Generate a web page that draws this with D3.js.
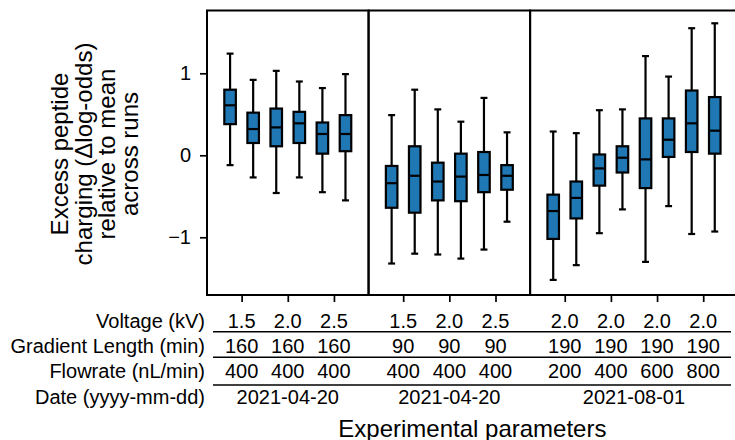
<!DOCTYPE html>
<html>
<head>
<meta charset="utf-8">
<script src="https://cdn.jsdelivr.net/npm/d3@7"></script>
<style>
    body { margin: 0; background: #fff; }
    svg { display: block; font-family: "Liberation Sans", Arial, Helvetica, sans-serif; }
</style>
</head>
<body>
<svg id="chart" width="735" height="440"></svg>
<script>
// conditions in each panel, every condition was run twice
var panelConditions = [3, 3, 4];
var runsPerCondition = 2;

var voltage = ['1.5', '2.0', '2.5', '1.5', '2.0', '2.5', '2.0', '2.0', '2.0', '2.0'];
var gradientLength = ['160', '160', '160', '90', '90', '90', '190', '190', '190', '190'];
var flowrate = ['400', '400', '400', '400', '400', '400', '200', '400', '600', '800'];
var dates = ['2021-04-20', '2021-04-20', '2021-08-01'];
var rowLabels = ['Voltage (kV)', 'Gradient Length (min)', 'Flowrate (nL/min)', 'Date (yyyy-mm-dd)'];
var yTicks = [-1, 0, 1];

// box statistics, one entry per run
var whiskerHigh = [1.24, 0.92, 1.03, 0.90, 0.82, 0.99,
                   0.49, 0.80, 0.56, 0.41, 0.70, 0.28,
                   0.29, 0.27, 0.55, 0.56, 1.21, 0.96, 1.55, 1.61];
var q3 = [0.80, 0.52, 0.57, 0.53, 0.40, 0.49,
          -0.13, 0.11, -0.09, 0.02, 0.04, -0.12,
          -0.48, -0.32, 0.01, 0.11, 0.45, 0.45, 0.79, 0.71];
var median = [0.61, 0.32, 0.34, 0.39, 0.26, 0.26,
              -0.34, -0.25, -0.32, -0.26, -0.24, -0.25,
              -0.68, -0.52, -0.16, -0.03, -0.05, 0.19, 0.39, 0.30];
var q1 = [0.38, 0.15, 0.11, 0.15, 0.02, 0.05,
          -0.64, -0.70, -0.55, -0.56, -0.45, -0.42,
          -1.02, -0.77, -0.37, -0.21, -0.40, -0.02, 0.04, 0.02];
var whiskerLow = [-0.12, -0.27, -0.46, -0.27, -0.45, -0.55,
                  -1.32, -1.20, -1.21, -1.26, -1.15, -0.81,
                  -1.52, -1.34, -0.95, -0.66, -1.30, -0.62, -0.96, -0.93];

var svg = d3.select('#chart');
var plotTop = 10.5, plotBottom = 295, plotLeft = 207, unit = 23.08;

// work out slot positions: one empty slot on each side of a panel
var panels = [], boxes = [], groups = [];
var offset = 0, b = 0, g = 0;
panelConditions.forEach(function(n, p) {
    var width = n * runsPerCondition + 1;
    panels.push({ start: offset, end: offset + width, date: dates[p] });
    for (var c = 0; c < n; c++) {
        groups.push({ pos: offset + 1.5 + c * runsPerCondition, idx: g++ });
        for (var r = 0; r < runsPerCondition; r++) {
            boxes.push({ pos: offset + 1 + c * runsPerCondition + r, idx: b++ });
        }
    }
    offset += width;
});

var x = d3.scaleLinear().domain([0, offset]).range([plotLeft, plotLeft + offset * unit]);
var y = d3.scaleLinear().domain([-1.704, 1.766]).range([plotBottom, plotTop]);

// panel frames
svg.selectAll('rect.panel')
    .data(panels)
    .enter().append('rect')
    .attr('class', 'panel')
    .attr('x', function(d) { return x(d.start); })
    .attr('y', plotTop)
    .attr('width', function(d) { return x(d.end) - x(d.start); })
    .attr('height', plotBottom - plotTop)
    .style('fill', 'none')
    .style('stroke', '#000')
    .style('stroke-width', 2);

// y axis
var yAxis = svg.append('g')
    .attr('transform', 'translate(' + plotLeft + ',0)')
    .call(d3.axisLeft(y).tickValues(yTicks).tickSize(7).tickPadding(9).tickFormat(d3.format('d')));
yAxis.select('.domain').remove();
yAxis.selectAll('line').style('stroke', '#000').style('stroke-width', 1.7);
yAxis.selectAll('text').style('font-size', '20px').style('font-family', 'inherit').style('fill', '#000');

// x ticks at condition centres
var xAxis = svg.append('g')
    .attr('transform', 'translate(0,' + plotBottom + ')')
    .call(d3.axisBottom(x).tickValues(groups.map(function(d) { return d.pos; })).tickSize(7).tickFormat(''));
xAxis.select('.domain').remove();
xAxis.selectAll('line').style('stroke', '#000').style('stroke-width', 1.7);

// boxes
var boxWidth = 0.5 * unit, capWidth = 0.3 * unit;
var box = svg.selectAll('g.box')
    .data(boxes)
    .enter().append('g')
    .attr('class', 'box');

box.append('line')
    .attr('x1', function(d) { return x(d.pos); })
    .attr('x2', function(d) { return x(d.pos); })
    .attr('y1', function(d) { return y(whiskerHigh[d.idx]); })
    .attr('y2', function(d) { return y(whiskerLow[d.idx]); });

box.selectAll('line.cap')
    .data(function(d) { return [{ pos: d.pos, v: whiskerHigh[d.idx] }, { pos: d.pos, v: whiskerLow[d.idx] }]; })
    .enter().append('line')
    .attr('class', 'cap')
    .attr('x1', function(d) { return x(d.pos) - capWidth / 2; })
    .attr('x2', function(d) { return x(d.pos) + capWidth / 2; })
    .attr('y1', function(d) { return y(d.v); })
    .attr('y2', function(d) { return y(d.v); });

box.append('rect')
    .attr('x', function(d) { return x(d.pos) - boxWidth / 2; })
    .attr('y', function(d) { return y(q3[d.idx]); })
    .attr('width', boxWidth)
    .attr('height', function(d) { return y(q1[d.idx]) - y(q3[d.idx]); })
    .style('fill', '#1f77b4');

box.append('line')
    .attr('x1', function(d) { return x(d.pos) - boxWidth / 2; })
    .attr('x2', function(d) { return x(d.pos) + boxWidth / 2; })
    .attr('y1', function(d) { return y(median[d.idx]); })
    .attr('y2', function(d) { return y(median[d.idx]); });

box.selectAll('line, rect')
    .style('stroke', '#000')
    .style('stroke-width', 2.2);

// parameter table under the axis
var rowBaselines = [327.7, 353.3, 378.3, 404];
var rowLines = [331.7, 357.3, 385];
var rowValues = [voltage, gradientLength, flowrate];

svg.selectAll('text.rowlabel')
    .data(rowLabels)
    .enter().append('text')
    .attr('class', 'rowlabel')
    .attr('x', 205)
    .attr('y', function(d, i) { return rowBaselines[i]; })
    .attr('text-anchor', 'end')
    .style('font-size', '20px')
    .text(function(d) { return d; });

rowValues.forEach(function(values, r) {
    svg.selectAll('text.row' + r)
        .data(groups)
        .enter().append('text')
        .attr('class', 'row' + r)
        .attr('x', function(d) { return x(d.pos); })
        .attr('y', rowBaselines[r])
        .attr('text-anchor', 'middle')
        .style('font-size', '20px')
        .text(function(d) { return values[d.idx]; });
});

svg.selectAll('text.date')
    .data(panels)
    .enter().append('text')
    .attr('class', 'date')
    .attr('x', function(d) { return x((d.start + d.end) / 2); })
    .attr('y', rowBaselines[3])
    .attr('text-anchor', 'middle')
    .style('font-size', '20px')
    .text(function(d) { return d.date; });

svg.selectAll('line.rowline')
    .data(rowLines)
    .enter().append('line')
    .attr('class', 'rowline')
    .attr('x1', 213)
    .attr('x2', 731)
    .attr('y1', function(d) { return d; })
    .attr('y2', function(d) { return d; })
    .style('stroke', '#000')
    .style('stroke-width', 1.6);

// axis titles
svg.append('text')
    .attr('x', x(offset / 2))
    .attr('y', 437)
    .attr('text-anchor', 'middle')
    .style('font-size', '24px')
    .text('Experimental parameters');

var yLabel = ['Excess peptide', 'charging (\u0394log-odds)', 'relative to mean', 'across runs'];
svg.append('text')
    .attr('transform', 'translate(68.3,154) rotate(-90)')
    .attr('text-anchor', 'middle')
    .style('font-size', '24px')
    .selectAll('tspan')
    .data(yLabel)
    .enter().append('tspan')
    .attr('x', 0)
    .attr('dy', function(d, i) { return i ? 23.3 : 0; })
    .text(function(d) { return d; });
</script>
</body>
</html>
